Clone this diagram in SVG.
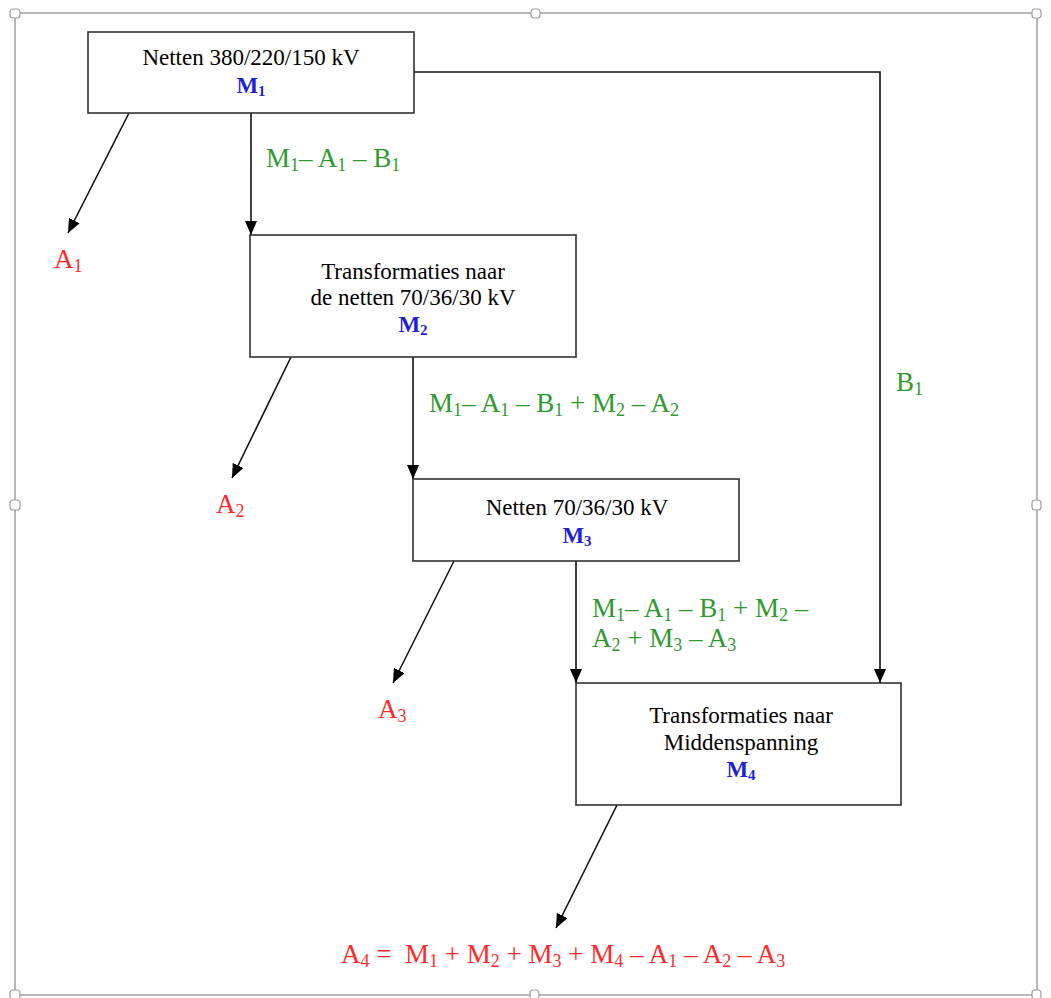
<svg xmlns="http://www.w3.org/2000/svg" width="1051" height="998" viewBox="0 0 1051 998">
<defs>
<marker id="arr" viewBox="0 0 14 12" markerWidth="14" markerHeight="12" refX="14" refY="6" orient="auto" markerUnits="userSpaceOnUse">
<path d="M0,0 L14,6 L0,12 z" fill="#000"/>
</marker>
<style>
.frame{fill:none;stroke:#a0a0a0;stroke-width:1.5}
.handle{fill:#fff;stroke:#a0a0a0;stroke-width:1.2}
.box{fill:#fff;stroke:#333;stroke-width:1.6}
.bt{font-family:"Liberation Serif","Times New Roman",serif;font-size:23px;fill:#000;text-anchor:middle}
.mt{font-family:"Liberation Serif","Times New Roman",serif;font-size:23px;font-weight:bold;fill:#1f1fd8;text-anchor:middle}
.g{font-family:"Liberation Serif","Times New Roman",serif;font-size:27px;fill:#2f9a2f}
.r{font-family:"Liberation Serif","Times New Roman",serif;font-size:27px;fill:#ff2b2b}
.s{font-size:18px}
.ms{font-size:15px}
.ln{fill:none;stroke:#111;stroke-width:1.6}
</style>
</defs>
<rect width="1051" height="998" fill="#fff"/>
<g id="frame">
<rect class="frame" x="15" y="13" width="1022" height="982"/>
<rect class="handle" x="10" y="9" width="10" height="9" rx="3"/>
<rect class="handle" x="531" y="9" width="9" height="9" rx="3"/>
<rect class="handle" x="1032" y="9" width="9" height="9" rx="3"/>
<rect class="handle" x="10" y="500" width="10" height="10" rx="3"/>
<rect class="handle" x="1032" y="500" width="9" height="10" rx="3"/>
<rect class="handle" x="10" y="990" width="10" height="9" rx="3"/>
<rect class="handle" x="530" y="990" width="9" height="9" rx="3"/>
<rect class="handle" x="1032" y="990" width="9" height="9" rx="3"/>
</g>
<g id="connectors">
<path class="ln" d="M414,72 H880 V683" marker-end="url(#arr)"/>
<path class="ln" d="M251,113 V235" marker-end="url(#arr)"/>
<path class="ln" d="M413,357 V479" marker-end="url(#arr)"/>
<path class="ln" d="M576,561 V683" marker-end="url(#arr)"/>
<path class="ln" d="M129,113 L68,233" marker-end="url(#arr)"/>
<path class="ln" d="M291,357 L232,478" marker-end="url(#arr)"/>
<path class="ln" d="M454,561 L393,683" marker-end="url(#arr)"/>
<path class="ln" d="M617,805 L556,928" marker-end="url(#arr)"/>
</g>
<g id="node-m1">
<rect class="box" x="88" y="32" width="326" height="81"/>
<text class="bt" x="251" y="65">Netten 380/220/150 kV</text>
<text class="mt" x="251" y="93">M<tspan class="ms" dy="3">1</tspan></text>
</g>
<g id="node-m2">
<rect class="box" x="250" y="235" width="326" height="122"/>
<text class="bt" x="413" y="279">Transformaties naar</text>
<text class="bt" x="413" y="305">de netten 70/36/30 kV</text>
<text class="mt" x="413" y="332">M<tspan class="ms" dy="3">2</tspan></text>
</g>
<g id="node-m3">
<rect class="box" x="413" y="479" width="326" height="82"/>
<text class="bt" x="577" y="515">Netten 70/36/30 kV</text>
<text class="mt" x="577" y="543">M<tspan class="ms" dy="3">3</tspan></text>
</g>
<g id="node-m4">
<rect class="box" x="576" y="683" width="325" height="122"/>
<text class="bt" x="741" y="723">Transformaties naar</text>
<text class="bt" x="741" y="750">Middenspanning</text>
<text class="mt" x="741" y="777">M<tspan class="ms" dy="3">4</tspan></text>
</g>
<g id="labels">
<text class="g" x="266" y="167">M<tspan class="s" dy="4">1</tspan><tspan dy="-4">– A</tspan><tspan class="s" dy="4">1</tspan><tspan dy="-4"> – B</tspan><tspan class="s" dy="4">1</tspan></text>
<text class="g" x="429" y="412">M<tspan class="s" dy="4">1</tspan><tspan dy="-4">– A</tspan><tspan class="s" dy="4">1</tspan><tspan dy="-4"> – B</tspan><tspan class="s" dy="4">1</tspan><tspan dy="-4"> + M</tspan><tspan class="s" dy="4">2</tspan><tspan dy="-4"> – A</tspan><tspan class="s" dy="4">2</tspan></text>
<text class="g" x="592" y="617">M<tspan class="s" dy="4">1</tspan><tspan dy="-4">– A</tspan><tspan class="s" dy="4">1</tspan><tspan dy="-4"> – B</tspan><tspan class="s" dy="4">1</tspan><tspan dy="-4"> + M</tspan><tspan class="s" dy="4">2</tspan><tspan dy="-4"> –</tspan></text>
<text class="g" x="592" y="647">A<tspan class="s" dy="4">2</tspan><tspan dy="-4"> + M</tspan><tspan class="s" dy="4">3</tspan><tspan dy="-4"> – A</tspan><tspan class="s" dy="4">3</tspan></text>
<text class="g" x="896" y="391">B<tspan class="s" dy="4">1</tspan></text>
<text class="r" x="54" y="268">A<tspan class="s" dy="4">1</tspan></text>
<text class="r" x="216" y="513">A<tspan class="s" dy="4">2</tspan></text>
<text class="r" x="378" y="718">A<tspan class="s" dy="4">3</tspan></text>
<text class="r" x="341" y="963" xml:space="preserve">A<tspan class="s" dy="4">4</tspan><tspan dy="-4"> =  M</tspan><tspan class="s" dy="4">1</tspan><tspan dy="-4"> + M</tspan><tspan class="s" dy="4">2</tspan><tspan dy="-4"> + M</tspan><tspan class="s" dy="4">3</tspan><tspan dy="-4"> + M</tspan><tspan class="s" dy="4">4</tspan><tspan dy="-4"> – A</tspan><tspan class="s" dy="4">1</tspan><tspan dy="-4"> – A</tspan><tspan class="s" dy="4">2</tspan><tspan dy="-4"> – A</tspan><tspan class="s" dy="4">3</tspan></text>
</g>
</svg>
